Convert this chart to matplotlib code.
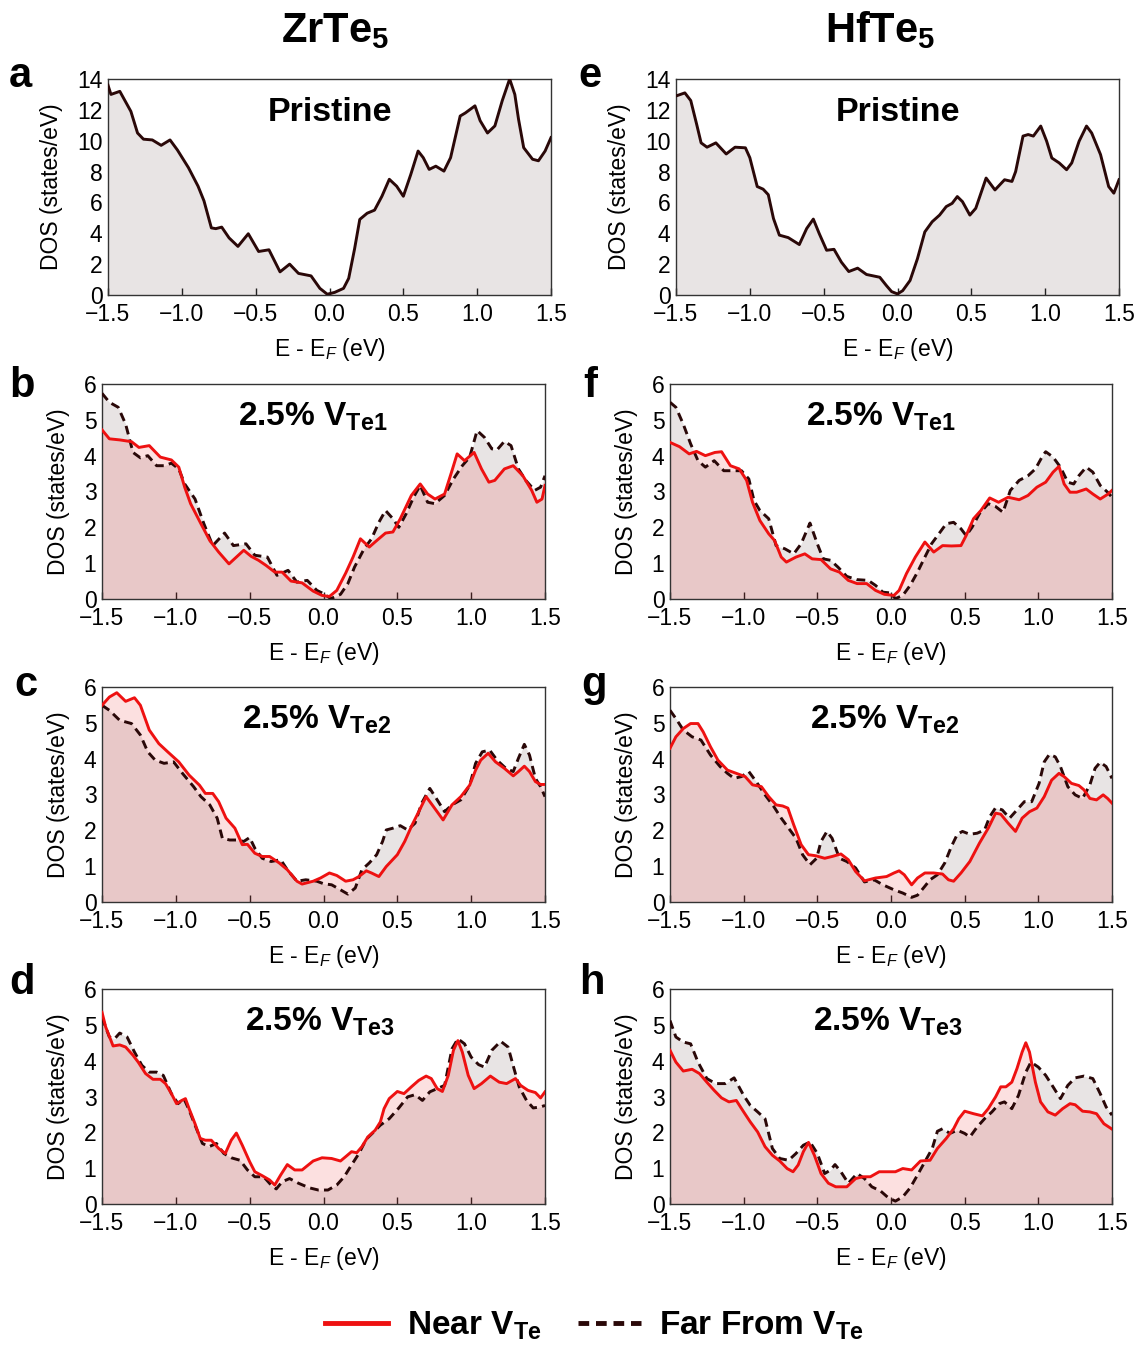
import matplotlib
matplotlib.use('Agg')
import matplotlib.pyplot as plt
from matplotlib.lines import Line2D

plt.rcParams['font.family'] = ['Liberation Sans', 'DejaVu Sans']
plt.rcParams['mathtext.fontset'] = 'custom'
plt.rcParams['mathtext.rm'] = 'Liberation Sans'
plt.rcParams['mathtext.it'] = 'Liberation Sans:italic'
plt.rcParams['mathtext.bf'] = 'Liberation Sans:bold'

# ---------------- data (E - E_F in eV, DOS in states/eV) ----------------
xtick_values = [-1.5, -1.0, -0.5, 0.0, 0.5, 1.0, 1.5]
xtick_labels = ['\u22121.5', '\u22121.0', '\u22120.5', '0.0', '0.5', '1.0', '1.5']
column_titles = [r'ZrTe$_{\mathbf{5}}$', r'HfTe$_{\mathbf{5}}$']
panel_letters = ['a', 'b', 'c', 'd', 'e', 'f', 'g', 'h']
panel_titles = ['Pristine', r'2.5% V$_{\mathbf{Te1}}$', r'2.5% V$_{\mathbf{Te2}}$', r'2.5% V$_{\mathbf{Te3}}$']
legend_labels = [r'Near V$_{\mathbf{Te}}$', r'Far From V$_{\mathbf{Te}}$']

zr_pristine = [(-1.5,13.6),(-1.48,13.0),(-1.42,13.2),(-1.345,11.9),(-1.30,10.5),(-1.26,10.1),(-1.20,10.05),
    (-1.14,9.7),(-1.08,10.05),(-1.03,9.4),(-0.955,8.25),(-0.89,7.05),(-0.85,6.1),(-0.80,4.35),(-0.77,4.3),
    (-0.73,4.4),(-0.68,3.7),(-0.62,3.15),(-0.55,3.97),(-0.48,2.82),(-0.41,2.93),(-0.335,1.5),(-0.27,2.0),
    (-0.21,1.4),(-0.125,1.24),(-0.065,0.43),(-0.015,0.05),(0.035,0.17),(0.095,0.43),(0.13,1.08),(0.17,3.0),
    (0.205,4.9),(0.255,5.3),(0.305,5.5),(0.355,6.4),(0.405,7.5),(0.455,7.05),(0.50,6.4),(0.55,7.8),(0.60,9.33),
    (0.635,8.9),(0.675,8.14),(0.72,8.35),(0.775,8.03),(0.82,8.9),(0.885,11.6),(0.92,11.8),(0.985,12.26),
    (1.02,11.3),(1.07,10.5),(1.12,10.96),(1.17,12.6),(1.22,14.0),(1.255,13.0),(1.28,11.4),(1.315,9.55),
    (1.375,8.8),(1.415,8.7),(1.46,9.33),(1.5,10.2)]

hf_pristine = [(-1.5,12.9),(-1.44,13.1),(-1.40,12.6),(-1.36,11.06),(-1.33,9.86),(-1.29,9.58),(-1.23,9.86),
    (-1.16,9.14),(-1.10,9.58),(-1.03,9.54),(-1.0,8.9),(-0.95,7.03),(-0.91,6.86),(-0.875,6.5),(-0.84,4.96),
    (-0.80,3.88),(-0.74,3.72),(-0.665,3.27),(-0.615,4.31),(-0.57,4.92),(-0.53,3.98),(-0.48,2.9),(-0.43,2.96),
    (-0.38,2.13),(-0.33,1.52),(-0.27,1.74),(-0.21,1.33),(-0.12,1.15),(-0.075,0.61),(-0.04,0.22),(0.0,0.07),
    (0.035,0.28),(0.085,0.94),(0.135,2.35),(0.185,4.09),(0.235,4.75),(0.285,5.18),(0.33,5.73),(0.37,5.94),
    (0.405,6.38),(0.44,6.05),(0.49,5.18),(0.53,5.62),(0.60,7.58),(0.66,6.81),(0.725,7.47),(0.775,7.36),
    (0.80,8.0),(0.85,10.3),(0.885,10.4),(0.92,10.3),(0.97,10.95),(1.01,9.97),(1.045,8.88),(1.095,8.56),
    (1.145,8.12),(1.18,8.56),(1.23,9.97),(1.28,10.95),(1.315,10.5),(1.375,9.1),(1.43,7.03),(1.465,6.6),(1.5,7.47)]

zr_te1_near = [(-1.5,4.72),(-1.45,4.47),(-1.38,4.44),(-1.30,4.39),(-1.25,4.23),(-1.18,4.28),(-1.105,3.96),
    (-1.03,3.88),(-0.98,3.68),(-0.94,3.12),(-0.90,2.66),(-0.83,2.10),(-0.77,1.63),(-0.71,1.31),(-0.64,0.98),
    (-0.59,1.17),(-0.54,1.36),(-0.49,1.19),(-0.44,1.08),(-0.39,0.94),(-0.33,0.75),(-0.28,0.75),(-0.22,0.50),
    (-0.145,0.45),(-0.07,0.22),(-0.01,0.10),(0.04,0.07),(0.09,0.24),(0.15,0.72),(0.20,1.17),(0.25,1.68),
    (0.31,1.45),(0.36,1.63),(0.42,1.84),(0.47,1.87),(0.52,2.24),(0.595,2.89),(0.655,3.21),(0.705,2.93),
    (0.755,2.79),(0.82,2.93),(0.87,3.58),(0.905,4.05),(0.955,3.86),(1.02,4.09),(1.07,3.63),(1.12,3.26),
    (1.16,3.31),(1.225,3.63),(1.285,3.72),(1.35,3.44),(1.41,3.03),(1.445,2.70),(1.48,2.79),(1.5,3.17)]
zr_te1_far = [(-1.5,5.74),(-1.45,5.49),(-1.39,5.35),(-1.34,4.88),(-1.29,4.09),(-1.24,3.94),(-1.19,4.0),
    (-1.13,3.72),(-1.08,3.72),(-1.03,3.79),(-0.98,3.63),(-0.94,3.21),(-0.87,2.79),(-0.81,2.10),(-0.75,1.49),
    (-0.67,1.84),(-0.61,1.49),(-0.525,1.54),(-0.465,1.22),(-0.38,1.17),(-0.315,0.66),(-0.24,0.80),(-0.18,0.47),
    (-0.11,0.52),(-0.045,0.24),(0.0,0.15),(0.05,0.01),(0.115,0.13),(0.165,0.43),(0.21,0.89),(0.275,1.40),
    (0.325,1.68),(0.375,2.14),(0.42,2.47),(0.47,2.24),(0.51,2.0),(0.56,2.38),(0.61,2.84),(0.655,3.17),
    (0.705,2.70),(0.755,2.66),(0.82,2.89),(0.88,3.35),(0.94,3.72),(0.99,3.96),(1.04,4.70),(1.09,4.51),
    (1.14,4.19),(1.175,4.16),(1.225,4.40),(1.27,4.28),(1.32,3.63),(1.37,3.31),(1.43,3.03),(1.47,3.12),(1.5,3.44)]

zr_te2_near = [(-1.5,5.49),(-1.45,5.72),(-1.40,5.84),(-1.34,5.60),(-1.28,5.70),(-1.24,5.49),(-1.18,4.80),
    (-1.115,4.42),(-1.055,4.19),(-0.98,3.91),(-0.91,3.54),(-0.84,3.26),(-0.80,3.03),(-0.75,3.03),(-0.71,2.80),
    (-0.66,2.34),(-0.60,2.06),(-0.55,1.60),(-0.515,1.61),(-0.465,1.36),(-0.415,1.27),(-0.365,1.27),(-0.30,1.09),
    (-0.245,0.90),(-0.18,0.58),(-0.145,0.50),(-0.07,0.58),(-0.02,0.67),(0.04,0.81),(0.09,0.74),(0.15,0.58),
    (0.20,0.62),(0.24,0.71),(0.29,0.87),(0.325,0.81),(0.375,0.71),(0.425,0.99),(0.50,1.32),(0.55,1.69),
    (0.60,2.15),(0.645,2.52),(0.695,2.94),(0.745,2.66),(0.81,2.29),(0.87,2.71),(0.93,2.94),(0.99,3.26),
    (1.03,3.68),(1.065,3.96),(1.115,4.15),(1.165,3.91),(1.225,3.73),(1.285,3.52),(1.32,3.64),(1.36,3.79),
    (1.395,3.64),(1.435,3.36),(1.47,3.28),(1.5,3.28)]
zr_te2_far = [(-1.5,5.49),(-1.45,5.35),(-1.38,5.07),(-1.30,4.98),(-1.24,4.66),(-1.19,4.19),(-1.14,3.96),
    (-1.08,3.87),(-1.015,3.91),(-0.955,3.59),(-0.88,3.22),(-0.83,2.94),(-0.77,2.71),(-0.72,2.34),(-0.685,1.78),
    (-0.635,1.73),(-0.585,1.73),(-0.54,1.69),(-0.50,1.80),(-0.465,1.50),(-0.415,1.22),(-0.355,1.13),(-0.29,1.18),
    (-0.245,0.90),(-0.18,0.58),(-0.12,0.62),(-0.045,0.58),(0.0,0.51),(0.055,0.48),(0.115,0.34),(0.165,0.22),
    (0.215,0.39),(0.26,0.90),(0.31,1.09),(0.36,1.32),(0.40,1.69),(0.425,2.01),(0.47,2.06),(0.52,2.13),
    (0.57,2.01),(0.62,2.20),(0.665,2.76),(0.72,3.17),(0.77,2.85),(0.82,2.52),(0.87,2.71),(0.93,2.85),
    (0.99,3.26),(1.03,3.87),(1.075,4.19),(1.125,4.24),(1.175,3.96),(1.235,3.73),(1.285,3.64),(1.32,4.01),
    (1.36,4.40),(1.395,4.10),(1.435,3.45),(1.47,3.22),(1.5,2.94)]

zr_te3_near = [(-1.5,5.35),(-1.475,4.94),(-1.425,4.41),(-1.38,4.44),(-1.34,4.38),(-1.29,4.15),(-1.255,3.96),
    (-1.205,3.64),(-1.155,3.48),(-1.105,3.48),(-1.07,3.36),(-1.03,3.08),(-0.995,2.80),(-0.96,2.89),(-0.935,2.94),
    (-0.91,2.66),(-0.87,2.24),(-0.835,1.83),(-0.80,1.78),(-0.76,1.78),(-0.71,1.55),(-0.665,1.41),(-0.625,1.78),
    (-0.59,1.98),(-0.55,1.64),(-0.50,1.18),(-0.465,0.90),(-0.415,0.79),(-0.365,0.67),(-0.33,0.53),(-0.29,0.81),
    (-0.245,1.10),(-0.195,0.95),(-0.145,0.95),(-0.07,1.20),(-0.01,1.29),(0.055,1.27),(0.115,1.20),(0.15,1.32),
    (0.19,1.46),(0.225,1.43),(0.26,1.60),(0.30,1.87),(0.35,2.06),(0.385,2.29),(0.41,2.66),(0.445,2.94),
    (0.50,3.14),(0.545,3.08),(0.595,3.27),(0.645,3.45),(0.695,3.57),(0.73,3.50),(0.77,3.22),(0.805,3.14),
    (0.845,3.59),(0.88,4.29),(0.91,4.56),(0.94,4.24),(0.98,3.59),(1.02,3.22),(1.07,3.36),(1.13,3.57),
    (1.19,3.40),(1.24,3.36),(1.30,3.50),(1.335,3.31),(1.385,3.17),(1.435,3.11),(1.47,2.96),(1.5,3.13)]
zr_te3_far = [(-1.5,5.21),(-1.45,4.66),(-1.415,4.61),(-1.38,4.77),(-1.33,4.66),(-1.28,4.24),(-1.23,3.87),
    (-1.18,3.68),(-1.13,3.68),(-1.085,3.59),(-1.03,3.08),(-0.985,2.80),(-0.945,2.94),(-0.91,2.62),(-0.87,2.20),
    (-0.82,1.69),(-0.775,1.60),(-0.725,1.69),(-0.675,1.41),(-0.625,1.29),(-0.565,1.22),(-0.515,0.95),
    (-0.465,0.76),(-0.405,0.76),(-0.355,0.53),(-0.32,0.42),(-0.28,0.62),(-0.23,0.71),(-0.17,0.58),(-0.095,0.45),
    (-0.035,0.39),(0.03,0.39),(0.09,0.53),(0.14,0.76),(0.19,1.09),(0.24,1.41),(0.29,1.81),(0.335,1.99),
    (0.385,2.20),(0.445,2.38),(0.51,2.68),(0.57,2.99),(0.62,3.05),(0.67,2.89),(0.72,3.13),(0.77,3.22),
    (0.82,3.31),(0.87,4.33),(0.91,4.61),(0.955,4.47),(1.0,4.10),(1.05,3.89),(1.09,3.82),(1.14,4.29),
    (1.20,4.54),(1.25,4.38),(1.29,3.78),(1.325,3.27),(1.375,2.89),(1.42,2.68),(1.47,2.71),(1.5,2.75)]

hf_te1_near = [(-1.5,4.37),(-1.435,4.25),(-1.37,4.05),(-1.32,4.12),(-1.26,4.0),(-1.195,4.09),(-1.15,4.11),
    (-1.09,3.72),(-1.03,3.63),(-0.98,3.31),(-0.94,2.70),(-0.89,2.19),(-0.83,1.82),(-0.79,1.63),(-0.745,1.17),
    (-0.71,1.03),(-0.645,1.17),(-0.585,1.26),(-0.535,1.12),(-0.475,1.10),(-0.41,0.84),(-0.35,0.75),(-0.29,0.52),
    (-0.23,0.43),(-0.165,0.43),(-0.105,0.24),(-0.045,0.13),(0.02,0.10),(0.055,0.24),(0.105,0.71),(0.165,1.17),
    (0.23,1.59),(0.29,1.31),(0.35,1.49),(0.41,1.48),(0.475,1.49),(0.51,1.77),(0.56,2.24),(0.61,2.47),
    (0.67,2.82),(0.73,2.70),(0.795,2.84),(0.87,2.77),(0.93,2.89),(0.99,3.12),(1.05,3.26),(1.10,3.54),
    (1.14,3.70),(1.175,3.21),(1.215,2.98),(1.26,2.98),(1.325,3.07),(1.37,2.93),(1.42,2.79),(1.47,2.92),(1.5,3.03)]
hf_te1_far = [(-1.5,5.49),(-1.46,5.35),(-1.41,4.88),(-1.36,4.33),(-1.31,3.86),(-1.26,3.68),(-1.20,3.86),
    (-1.135,3.58),(-1.075,3.58),(-1.015,3.58),(-0.965,3.35),(-0.93,2.75),(-0.89,2.47),(-0.83,2.24),(-0.78,1.49),
    (-0.72,1.40),(-0.66,1.26),(-0.61,1.54),(-0.55,2.12),(-0.50,1.54),(-0.46,1.12),(-0.41,1.08),(-0.36,0.89),
    (-0.30,0.63),(-0.23,0.54),(-0.155,0.52),(-0.105,0.38),(-0.055,0.19),(-0.005,0.17),(0.03,0.01),(0.08,0.10),
    (0.13,0.38),(0.18,0.75),(0.23,1.17),(0.275,1.54),(0.325,1.82),(0.375,2.10),(0.425,2.14),(0.475,1.96),
    (0.51,1.77),(0.55,2.0),(0.60,2.38),(0.66,2.66),(0.71,2.58),(0.76,2.42),(0.81,3.03),(0.87,3.31),
    (0.93,3.44),(0.98,3.63),(1.03,4.0),(1.05,4.11),(1.10,3.96),(1.15,3.68),(1.20,3.26),(1.24,3.21),
    (1.275,3.44),(1.325,3.68),(1.37,3.54),(1.42,3.17),(1.47,2.98),(1.5,2.84)]

hf_te2_near = [(-1.5,4.29),(-1.46,4.61),(-1.41,4.84),(-1.36,4.98),(-1.31,4.98),(-1.275,4.75),(-1.225,4.33),
    (-1.175,3.96),(-1.11,3.68),(-1.05,3.59),(-0.99,3.50),(-0.94,3.27),(-0.88,3.22),(-0.83,2.94),(-0.78,2.71),
    (-0.735,2.68),(-0.70,2.62),(-0.66,2.15),(-0.61,1.60),(-0.56,1.32),(-0.51,1.29),(-0.45,1.22),(-0.40,1.27),
    (-0.34,1.34),(-0.29,1.18),(-0.24,0.85),(-0.18,0.59),(-0.105,0.67),(-0.03,0.71),(0.02,0.81),(0.055,0.87),
    (0.09,0.76),(0.14,0.48),(0.18,0.67),(0.23,0.81),(0.29,0.81),(0.35,0.78),(0.39,0.62),(0.425,0.58),
    (0.475,0.81),(0.535,1.13),(0.60,1.64),(0.66,2.06),(0.71,2.48),(0.745,2.45),(0.795,2.20),(0.845,1.97),
    (0.89,2.34),(0.94,2.52),(0.99,2.62),(1.04,2.94),(1.09,3.40),(1.14,3.59),(1.175,3.50),(1.225,3.31),
    (1.275,3.25),(1.31,3.13),(1.35,2.89),(1.395,2.85),(1.44,2.99),(1.47,2.89),(1.5,2.76)]
hf_te2_far = [(-1.5,5.35),(-1.46,5.12),(-1.41,4.80),(-1.35,4.61),(-1.29,4.52),(-1.225,4.10),(-1.16,3.78),
    (-1.11,3.59),(-1.065,3.45),(-1.015,3.50),(-0.965,3.64),(-0.915,3.36),(-0.855,2.99),(-0.795,2.66),
    (-0.745,2.34),(-0.695,2.06),(-0.645,1.78),(-0.60,1.32),(-0.55,1.04),(-0.505,1.22),(-0.475,1.69),
    (-0.435,1.97),(-0.40,1.78),(-0.35,1.22),(-0.30,1.13),(-0.24,0.95),(-0.18,0.56),(-0.115,0.62),(-0.055,0.48),
    (0.02,0.34),(0.08,0.25),(0.14,0.13),(0.18,0.19),(0.23,0.44),(0.265,0.62),(0.315,0.76),(0.365,1.09),
    (0.41,1.55),(0.45,1.89),(0.485,1.97),(0.535,1.89),(0.585,1.92),(0.635,2.01),(0.67,2.38),(0.71,2.63),
    (0.755,2.57),(0.805,2.34),(0.855,2.57),(0.905,2.80),(0.955,2.80),(1.005,3.31),(1.04,3.91),(1.075,4.12),
    (1.115,4.05),(1.15,3.78),(1.20,3.22),(1.25,2.99),(1.30,2.89),(1.35,3.27),(1.385,3.73),(1.42,3.90),
    (1.46,3.78),(1.5,3.45)]

hf_te3_near = [(-1.5,4.29),(-1.46,3.96),(-1.41,3.71),(-1.35,3.76),(-1.30,3.64),(-1.25,3.40),(-1.20,3.17),
    (-1.15,2.96),(-1.10,2.85),(-1.05,2.89),(-1.0,2.57),(-0.955,2.29),(-0.905,2.01),(-0.855,1.60),(-0.805,1.36),
    (-0.755,1.20),(-0.705,0.99),(-0.665,0.90),(-0.63,1.09),(-0.595,1.46),(-0.56,1.72),(-0.52,1.36),(-0.475,0.85),
    (-0.425,0.58),(-0.375,0.48),(-0.30,0.48),(-0.24,0.71),(-0.19,0.76),(-0.14,0.76),(-0.08,0.90),(-0.02,0.90),
    (0.03,0.90),(0.08,0.99),(0.14,0.95),(0.20,1.20),(0.265,1.22),(0.315,1.55),(0.375,1.83),(0.425,2.10),
    (0.46,2.38),(0.50,2.59),(0.56,2.52),(0.62,2.46),(0.66,2.66),(0.71,2.99),(0.745,3.27),(0.78,3.27),
    (0.82,3.40),(0.855,3.78),(0.89,4.24),(0.915,4.50),(0.94,4.24),(0.98,3.40),(1.015,2.85),(1.065,2.57),
    (1.115,2.48),(1.165,2.66),(1.215,2.80),(1.25,2.77),(1.30,2.59),(1.35,2.57),(1.395,2.52),(1.445,2.24),(1.5,2.09)]
hf_te3_far = [(-1.5,5.12),(-1.46,4.66),(-1.41,4.52),(-1.36,4.47),(-1.31,3.96),(-1.25,3.50),(-1.19,3.36),
    (-1.125,3.36),(-1.065,3.52),(-1.0,3.03),(-0.955,2.75),(-0.905,2.57),(-0.855,2.38),(-0.805,1.55),(-0.755,1.27),
    (-0.695,1.22),(-0.645,1.41),(-0.595,1.64),(-0.55,1.73),(-0.50,1.41),(-0.45,0.85),(-0.41,0.95),(-0.38,1.10),
    (-0.34,0.90),(-0.29,0.58),(-0.23,0.85),(-0.18,0.71),(-0.13,0.48),(-0.07,0.36),(-0.02,0.18),(0.03,0.08),
    (0.08,0.20),(0.13,0.45),(0.18,0.81),(0.23,1.18),(0.28,1.55),(0.315,2.03),(0.35,2.10),(0.40,1.97),
    (0.45,2.06),(0.50,1.97),(0.535,1.87),(0.585,2.15),(0.635,2.38),(0.685,2.57),(0.735,2.80),(0.77,2.85),
    (0.82,2.66),(0.865,3.03),(0.915,3.68),(0.95,3.96),(1.0,3.82),(1.05,3.59),(1.10,3.27),(1.15,2.94),
    (1.20,3.31),(1.25,3.52),(1.31,3.57),(1.37,3.50),(1.42,3.08),(1.46,2.71),(1.5,2.48)]

# ---------------- style ----------------
W, H = 1139, 1348
RED = '#ee1111'
DARK = '#2a0808'
GRAY_FILL = '#e8e4e4'
FS_TICK = 16.5
LW = 2.1

fig = plt.figure(figsize=(W / 100, H / 100), dpi=100)


def box(x0, y0, x1, y1):
    return [x0 / W, 1 - y1 / H, (x1 - x0) / W, (y1 - y0) / H]


boxes = {
    'a': box(108, 79, 551, 295), 'e': box(676, 79, 1119, 295),
    'b': box(102, 384, 545, 599), 'f': box(670, 384, 1112, 599),
    'c': box(102, 687, 545, 902), 'g': box(670, 687, 1112, 902),
    'd': box(102, 989, 545, 1204), 'h': box(670, 989, 1112, 1204),
}


def setup(ax, ymax, ystep):
    ax.set_xlim(-1.5, 1.5)
    ax.set_ylim(0, ymax)
    ax.set_xticks(xtick_values)
    ax.set_xticklabels(xtick_labels)
    ax.set_yticks(list(range(0, ymax + 1, ystep)))
    ax.tick_params(axis='x', direction='in', length=5, width=1, labelsize=FS_TICK, pad=6, colors='#222222',
                   labelcolor='black')
    ax.tick_params(axis='y', length=0, labelsize=FS_TICK, pad=4)
    for s in ax.spines.values():
        s.set_linewidth(1.0)
        s.set_color('#333333')
    ax.set_xlabel(r'E - E$_F$ (eV)', fontsize=FS_TICK, labelpad=7)
    ax.set_ylabel('DOS (states/eV)', fontsize=FS_TICK, labelpad=10)


def plot_pristine(ax, data):
    e, d = zip(*data)
    ax.fill_between(e, d, 0, color=GRAY_FILL, lw=0, zorder=1)
    ax.plot(e, d, color=DARK, lw=LW, zorder=3, solid_joinstyle='round')


def plot_defect(ax, near, far):
    en, dn = zip(*near)
    ef, df = zip(*far)
    ax.fill_between(ef, df, 0, color=GRAY_FILL, lw=0, zorder=1)
    ax.fill_between(en, dn, 0, color=RED, alpha=0.13, lw=0, zorder=2)
    ax.plot(ef, df, color=DARK, lw=LW, dashes=(3.0, 1.8), zorder=3)
    ax.plot(en, dn, color=RED, lw=LW, zorder=4, solid_joinstyle='round')


title_x = {'a': 0.5, 'e': 0.5, 'b': 0.307, 'f': 0.307, 'c': 0.316, 'g': 0.316, 'd': 0.323, 'h': 0.323}

panels = [
    ('a', 'pristine', zr_pristine, None, 0),
    ('b', 'defect', zr_te1_near, zr_te1_far, 1),
    ('c', 'defect', zr_te2_near, zr_te2_far, 2),
    ('d', 'defect', zr_te3_near, zr_te3_far, 3),
    ('e', 'pristine', hf_pristine, None, 0),
    ('f', 'defect', hf_te1_near, hf_te1_far, 1),
    ('g', 'defect', hf_te2_near, hf_te2_far, 2),
    ('h', 'defect', hf_te3_near, hf_te3_far, 3),
]

for key, kind, d1, d2, ti in panels:
    ax = fig.add_axes(boxes[key])
    if kind == 'pristine':
        plot_pristine(ax, d1)
        setup(ax, 14, 2)
        ax.text(0.5, 0.805, panel_titles[ti], transform=ax.transAxes, fontsize=24.5,
                fontweight='bold', ha='center', va='baseline', zorder=6)
    else:
        plot_defect(ax, d1, d2)
        setup(ax, 6, 1)
        ax.text(title_x[key], 0.805, panel_titles[ti], transform=ax.transAxes, fontsize=24,
                fontweight='bold', ha='left', va='baseline', zorder=6)

# panel letters
letter_pos = {'a': (9, 87), 'b': (9, 397), 'c': (14, 696), 'd': (9, 994),
              'e': (578, 87), 'f': (583, 397), 'g': (581, 696), 'h': (579, 994)}
for k in panel_letters:
    x, y = letter_pos[k]
    fig.text(x / W, 1 - y / H, k, fontsize=30, fontweight='bold', ha='left', va='baseline')

# column titles
fig.text(335 / W, 1 - 42 / H, column_titles[0], fontsize=30, fontweight='bold', ha='center', va='baseline')
fig.text(880 / W, 1 - 42 / H, column_titles[1], fontsize=30, fontweight='bold', ha='center', va='baseline')

# legend
handles = [Line2D([], [], color=RED, lw=3.5),
           Line2D([], [], color=DARK, lw=3.5, dashes=(2.2, 1.4))]
fig.legend(handles, legend_labels, loc='center', bbox_to_anchor=(0.522, 0.0165), ncol=2, frameon=False,
           prop={'weight': 'bold', 'size': 24}, handlelength=1.9, columnspacing=1.1, handletextpad=0.55)

fig.savefig('out.png', dpi=100)
